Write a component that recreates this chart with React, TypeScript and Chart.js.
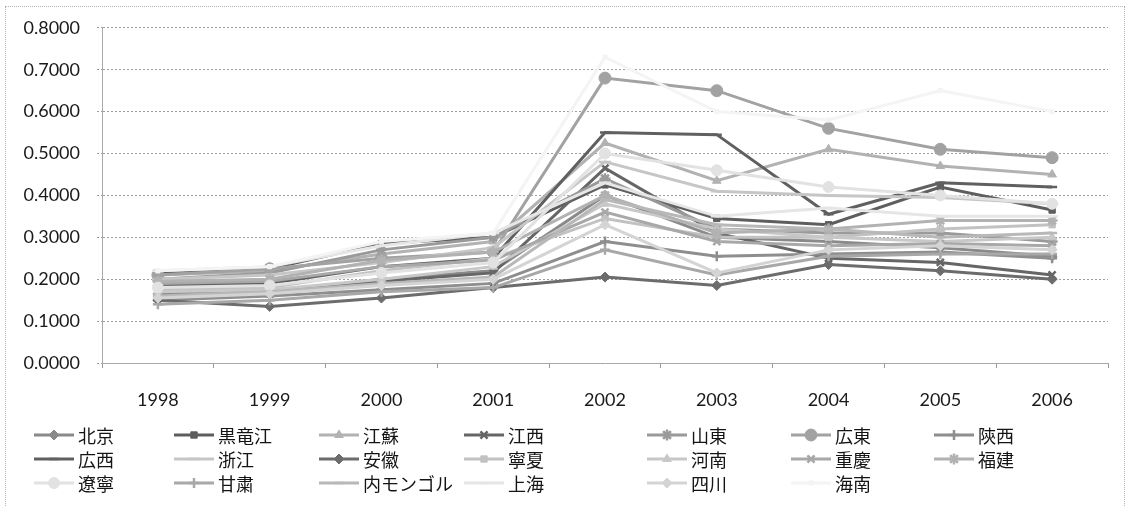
import React, { useEffect, useRef } from 'react';
import { Chart, registerables } from 'chart.js';
import { drawPoint } from 'chart.js/helpers';

Chart.register(...registerables);

// ---------------- data ----------------
const years = ['1998', '1999', '2000', '2001', '2002', '2003', '2004', '2005', '2006'];

const provinces = [
  '北京', '黒竜江', '江蘇', '江西', '山東', '広東', '陝西',
  '広西', '浙江', '安徽', '寧夏', '河南', '重慶', '福建',
  '遼寧', '甘粛', '内モンゴル', '上海', '四川', '海南',
];

const beijing = [0.165, 0.170, 0.200, 0.220, 0.400, 0.300, 0.290, 0.275, 0.255];
const heilongjiang = [0.215, 0.225, 0.285, 0.300, 0.425, 0.345, 0.330, 0.420, 0.365];
const jiangsu = [0.210, 0.220, 0.260, 0.290, 0.525, 0.435, 0.510, 0.470, 0.450];
const jiangxi = [0.160, 0.165, 0.195, 0.215, 0.465, 0.310, 0.250, 0.240, 0.210];
const shandong = [0.200, 0.215, 0.270, 0.300, 0.440, 0.320, 0.310, 0.310, 0.290];
const guangdong = [0.210, 0.225, 0.250, 0.265, 0.680, 0.650, 0.560, 0.510, 0.490];
const shaanxi = [0.150, 0.160, 0.175, 0.190, 0.290, 0.255, 0.260, 0.265, 0.250];
const guangxi = [0.185, 0.190, 0.230, 0.250, 0.550, 0.545, 0.355, 0.430, 0.420];
const zhejiang = [0.200, 0.210, 0.240, 0.275, 0.480, 0.410, 0.400, 0.395, 0.380];
const anhui = [0.150, 0.135, 0.155, 0.180, 0.205, 0.185, 0.235, 0.220, 0.200];
const ningxia = [0.175, 0.180, 0.220, 0.250, 0.345, 0.300, 0.300, 0.320, 0.330];
const henan = [0.170, 0.175, 0.200, 0.230, 0.380, 0.320, 0.300, 0.290, 0.300];
const chongqing = [0.190, 0.195, 0.230, 0.245, 0.360, 0.290, 0.280, 0.285, 0.280];
const fujian = [0.195, 0.200, 0.245, 0.265, 0.400, 0.310, 0.320, 0.340, 0.340];
const liaoning = [0.180, 0.185, 0.215, 0.240, 0.500, 0.460, 0.420, 0.400, 0.380];
const gansu = [0.140, 0.150, 0.170, 0.180, 0.270, 0.210, 0.255, 0.260, 0.260];
const neimenggu = [0.160, 0.170, 0.190, 0.205, 0.390, 0.330, 0.320, 0.300, 0.310];
const shanghai = [0.220, 0.230, 0.280, 0.310, 0.430, 0.350, 0.370, 0.350, 0.350];
const sichuan = [0.155, 0.165, 0.185, 0.200, 0.330, 0.215, 0.270, 0.280, 0.270];
const hainan = [0.220, 0.230, 0.290, 0.310, 0.730, 0.600, 0.580, 0.650, 0.600];

const seriesValues = [
  beijing, heilongjiang, jiangsu, jiangxi, shandong, guangdong, shaanxi,
  guangxi, zhejiang, anhui, ningxia, henan, chongqing, fujian,
  liaoning, gansu, neimenggu, shanghai, sichuan, hainan,
];

const yTickMin = 0;
const yTickMax = 0.8;
const yTickStep = 0.1;

// ---------------- styles ----------------
const seriesColors = [
  '#8a8a8a', '#5e5e5e', '#b2b2b2', '#666666', '#9a9a9a', '#a2a2a2', '#8e8e8e',
  '#606060', '#c6c6c6', '#6c6c6c', '#c2c2c2', '#c8c8c8', '#a8a8a8', '#b2b2b2',
  '#e2e2e2', '#a8a8a8', '#b8b8b8', '#e6e6e6', '#d4d4d4', '#f4f4f4',
];
const markerStyles: any[] = [
  'rectRot', 'rect', 'triangle', 'crossRot', 'star', 'circle', 'cross',
  'line', 'line', 'rectRot', 'rect', 'triangle', 'crossRot', 'star',
  'circle', 'cross', 'line', 'line', 'rectRot', 'rect',
];
const markerRadius = [
  5, 4.5, 5, 5, 5.5, 6, 5,
  5, 6, 5, 4.5, 5, 5, 5.5,
  5.5, 5, 5, 6, 5, 3,
];

const LEGEND_COL_X = [78, 218, 363, 508, 691, 835, 978];
const LEGEND_ROW_Y = [435, 459, 483];

const legendPlugin = {
  id: 'gridLegend',
  afterDraw(chart: any) {
    const ctx = chart.ctx;
    ctx.save();
    chart.data.datasets.forEach((ds: any, i: number) => {
      const col = i % 7;
      const row = Math.floor(i / 7);
      const tx = LEGEND_COL_X[col];
      const ty = LEGEND_ROW_Y[row];
      ctx.setLineDash([]);
      ctx.strokeStyle = ds.borderColor;
      ctx.lineWidth = 3;
      ctx.beginPath();
      ctx.moveTo(tx - 44, ty);
      ctx.lineTo(tx - 4, ty);
      ctx.stroke();
      ctx.fillStyle = ds.pointBackgroundColor;
      ctx.strokeStyle = ds.pointBorderColor;
      ctx.lineWidth = ds.pointBorderWidth;
      drawPoint(ctx, {
        pointStyle: ds.pointStyle,
        radius: ds.pointRadius,
        rotation: 0,
        borderWidth: ds.pointBorderWidth,
      } as any, tx - 24, ty);
      ctx.fillStyle = '#141414';
      ctx.font = '18px "Noto Sans CJK JP", sans-serif';
      ctx.textBaseline = 'middle';
      ctx.textAlign = 'left';
      ctx.fillText(ds.label, tx, ty + 1);
    });
    ctx.restore();
  },
};

export default function App() {
  const ref = useRef<HTMLCanvasElement | null>(null);

  useEffect(() => {
    if (!ref.current) return;
    const datasets = provinces.map((name, i) => ({
      label: name,
      data: seriesValues[i],
      borderColor: seriesColors[i],
      backgroundColor: seriesColors[i],
      pointBackgroundColor: seriesColors[i],
      pointBorderColor: seriesColors[i],
      pointStyle: markerStyles[i],
      pointRadius: markerRadius[i],
      pointBorderWidth: ['crossRot', 'cross', 'star', 'line'].includes(markerStyles[i]) ? 2.5 : 1,
      borderWidth: 3,
      tension: 0,
      fill: false,
      order: provinces.length - i,
    }));

    const chart = new Chart(ref.current, {
      type: 'line',
      data: { labels: years, datasets },
      plugins: [legendPlugin],
      options: {
        responsive: false,
        animation: false,
        devicePixelRatio: 1,
        layout: { padding: { left: 0, top: 27, right: 18, bottom: 0 } },
        plugins: {
          legend: { display: false },
          tooltip: { enabled: false },
        },
        scales: {
          x: {
            type: 'category',
            offset: true,
            grid: {
              offset: true,
              drawOnChartArea: false,
              drawTicks: true,
              tickLength: 5,
              color: '#9a9a9a',
              tickColor: '#9a9a9a',
            },
            border: { display: true, color: '#a8a8a8', width: 1 },
            ticks: {
              color: '#1a1a1a',
              font: { family: 'Lato', size: 18 },
              padding: 21,
              maxRotation: 0,
              autoSkip: false,
            },
            afterFit: (scale: any) => { scale.height = 143; },
          },
          y: {
            min: yTickMin,
            max: yTickMax,
            ticks: {
              stepSize: yTickStep,
              color: '#1a1a1a',
              font: { family: 'Lato', size: 18 },
              padding: 17,
              callback: (v: any) => Number(v).toFixed(4),
            },
            grid: {
              color: '#9e9e9e',
              lineWidth: 1,
              tickLength: 5,
              tickColor: '#9e9e9e',
              tickBorderDash: [2, 2],
            },
            border: { display: true, color: '#a8a8a8', width: 1, dash: [2, 2] },
            afterFit: (scale: any) => { scale.width = 102; },
          },
        },
      } as any,
    });
    return () => chart.destroy();
  }, []);

  return (
    <div style={{ position: 'fixed', left: 0, top: 0, width: 1126, height: 506, background: '#fff', overflow: 'hidden' }}>
      <canvas ref={ref} width={1126} height={506} style={{ position: 'absolute', left: 0, top: 0, width: 1126, height: 506 }} />
      <div style={{ position: 'absolute', left: 5, top: 6, width: 1118, height: 510, border: '1px dotted #b4b4b4', pointerEvents: 'none' }} />
    </div>
  );
}
